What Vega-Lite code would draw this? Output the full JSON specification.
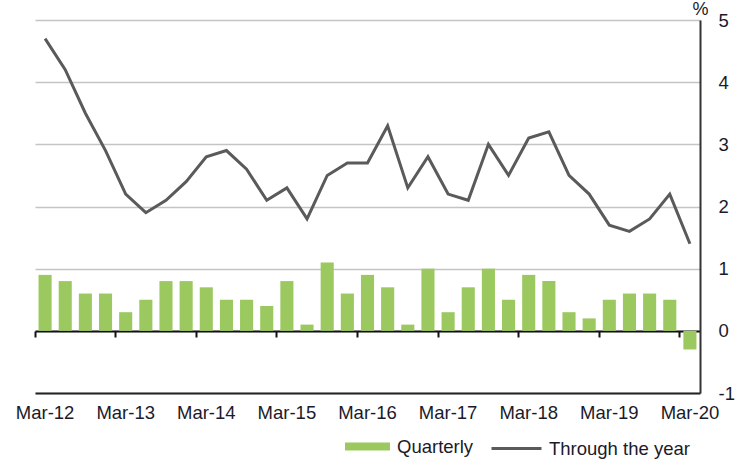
{
  "$schema": "https://vega.github.io/schema/vega-lite/v6.json",
  "width": 665,
  "height": 373,
  "autosize": {"type": "none"},
  "padding": {"left": 35, "top": 20, "right": 40, "bottom": 78},
  "background": "white",
  "config": {
    "view": {"stroke": null},
    "font": "Liberation Sans",
    "axis": {"labelFont": "Liberation Sans", "titleFont": "Liberation Sans"},
    "legend": {"labelFont": "Liberation Sans"}
  },
  "data": {
    "values": [
      {"q": "Mar-12", "quarterly": 0.9, "tty": 4.7},
      {"q": "Jun-12", "quarterly": 0.8, "tty": 4.2},
      {"q": "Sep-12", "quarterly": 0.6, "tty": 3.5},
      {"q": "Dec-12", "quarterly": 0.6, "tty": 2.9},
      {"q": "Mar-13", "quarterly": 0.3, "tty": 2.2},
      {"q": "Jun-13", "quarterly": 0.5, "tty": 1.9},
      {"q": "Sep-13", "quarterly": 0.8, "tty": 2.1},
      {"q": "Dec-13", "quarterly": 0.8, "tty": 2.4},
      {"q": "Mar-14", "quarterly": 0.7, "tty": 2.8},
      {"q": "Jun-14", "quarterly": 0.5, "tty": 2.9},
      {"q": "Sep-14", "quarterly": 0.5, "tty": 2.6},
      {"q": "Dec-14", "quarterly": 0.4, "tty": 2.1},
      {"q": "Mar-15", "quarterly": 0.8, "tty": 2.3},
      {"q": "Jun-15", "quarterly": 0.1, "tty": 1.8},
      {"q": "Sep-15", "quarterly": 1.1, "tty": 2.5},
      {"q": "Dec-15", "quarterly": 0.6, "tty": 2.7},
      {"q": "Mar-16", "quarterly": 0.9, "tty": 2.7},
      {"q": "Jun-16", "quarterly": 0.7, "tty": 3.3},
      {"q": "Sep-16", "quarterly": 0.1, "tty": 2.3},
      {"q": "Dec-16", "quarterly": 1.0, "tty": 2.8},
      {"q": "Mar-17", "quarterly": 0.3, "tty": 2.2},
      {"q": "Jun-17", "quarterly": 0.7, "tty": 2.1},
      {"q": "Sep-17", "quarterly": 1.0, "tty": 3.0},
      {"q": "Dec-17", "quarterly": 0.5, "tty": 2.5},
      {"q": "Mar-18", "quarterly": 0.9, "tty": 3.1},
      {"q": "Jun-18", "quarterly": 0.8, "tty": 3.2},
      {"q": "Sep-18", "quarterly": 0.3, "tty": 2.5},
      {"q": "Dec-18", "quarterly": 0.2, "tty": 2.2},
      {"q": "Mar-19", "quarterly": 0.5, "tty": 1.7},
      {"q": "Jun-19", "quarterly": 0.6, "tty": 1.6},
      {"q": "Sep-19", "quarterly": 0.6, "tty": 1.8},
      {"q": "Dec-19", "quarterly": 0.5, "tty": 2.2},
      {"q": "Mar-20", "quarterly": -0.3, "tty": 1.4}
    ]
  },
  "layer": [
    {
      "mark": {"type": "bar", "width": {"band": 0.65}},
      "encoding": {
        "x": {
          "field": "q", "type": "ordinal", "sort": null,
          "scale": {"paddingInner": 0, "paddingOuter": 0},
          "axis": {
            "orient": "bottom",
            "title": null,
            "values": ["Mar-12","Mar-13","Mar-14","Mar-15","Mar-16","Mar-17","Mar-18","Mar-19","Mar-20"],
            "labelAngle": 0,
            "labelFontSize": 18.5,
            "labelColor": "#1a1a2a",
            "labelPadding": 10,
            "ticks": false,
            "tickSize": 0,
            "domain": true,
            "domainColor": "#222222",
            "domainWidth": 2,
            "grid": false
          }
        },
        "y": {
          "field": "quarterly", "type": "quantitative",
          "scale": {"domain": [-1, 5], "nice": false, "zero": false},
          "axis": {
            "orient": "right",
            "title": "%",
            "titleAngle": 0,
            "titleX": 0,
            "titleY": -11,
            "titleAlign": "center",
            "titleBaseline": "middle",
            "titleFontSize": 18,
            "titleFontWeight": "normal",
            "titleColor": "#1a1a2a",
            "values": [-1, 0, 1, 2, 3, 4, 5],
            "labelExpr": "replace(datum.label, '−', '-')",
            "labelFontSize": 18.5,
            "labelColor": "#1a1a2a",
            "labelAlign": "left",
            "labelPadding": 18,
            "ticks": false,
            "tickSize": 0,
            "domainColor": "#333333",
            "domainWidth": 2,
            "grid": true,
            "gridColor": "#c4c4c4",
            "gridWidth": 1.5
          }
        },
        "fill": {
          "datum": "Quarterly",
          "scale": {"range": ["#9bc95f"]},
          "legend": {
            "title": null,
            "orient": "none",
            "legendX": 310,
            "legendY": 404,
            "symbolType": "M-1,-0.18H1V0.18H-1Z",
            "symbolSize": 2025,
            "symbolStrokeWidth": 0,
            "labelFontSize": 18.5,
            "labelColor": "#1a1a2a",
            "labelOffset": 7
          }
        }
      }
    },
    {
      "mark": {"type": "line", "strokeWidth": 3},
      "encoding": {
        "x": {
          "field": "q", "type": "ordinal", "sort": null,
          "axis": {
            "orient": "bottom",
            "offset": -62,
            "title": null,
            "values": ["Mar-12","Mar-13","Mar-14","Mar-15","Mar-16","Mar-17","Mar-18","Mar-19","Mar-20"],
            "bandPosition": 0,
            "labels": false,
            "ticks": true,
            "tickSize": 6,
            "tickWidth": 2,
            "tickColor": "#111111",
            "domain": true,
            "domainColor": "#111111",
            "domainWidth": 2,
            "grid": false
          }
        },
        "y": {
          "field": "tty", "type": "quantitative",
          "scale": {"domain": [-1, 5], "nice": false, "zero": false},
          "axis": {
            "orient": "right",
            "title": "%",
            "titleAngle": 0,
            "titleX": 0,
            "titleY": -11,
            "titleAlign": "center",
            "titleBaseline": "middle",
            "titleFontSize": 18,
            "titleFontWeight": "normal",
            "titleColor": "#1a1a2a",
            "values": [-1, 0, 1, 2, 3, 4, 5],
            "labelExpr": "replace(datum.label, '−', '-')",
            "labelFontSize": 18.5,
            "labelColor": "#1a1a2a",
            "labelAlign": "left",
            "labelPadding": 18,
            "ticks": false,
            "tickSize": 0,
            "domainColor": "#333333",
            "domainWidth": 2,
            "grid": true,
            "gridColor": "#c4c4c4",
            "gridWidth": 1.5
          }
        },
        "stroke": {
          "datum": "Through the year",
          "scale": {"range": ["#5a5a5a"]},
          "legend": {
            "title": null,
            "orient": "none",
            "legendX": 455,
            "legendY": 402,
            "symbolType": "stroke",
            "symbolSize": 2500,
            "symbolStrokeWidth": 3,
            "labelFontSize": 18.5,
            "labelColor": "#1a1a2a",
            "labelOffset": 6
          }
        }
      }
    }
  ],
  "resolve": {"axis": {"x": "independent"}}
}
